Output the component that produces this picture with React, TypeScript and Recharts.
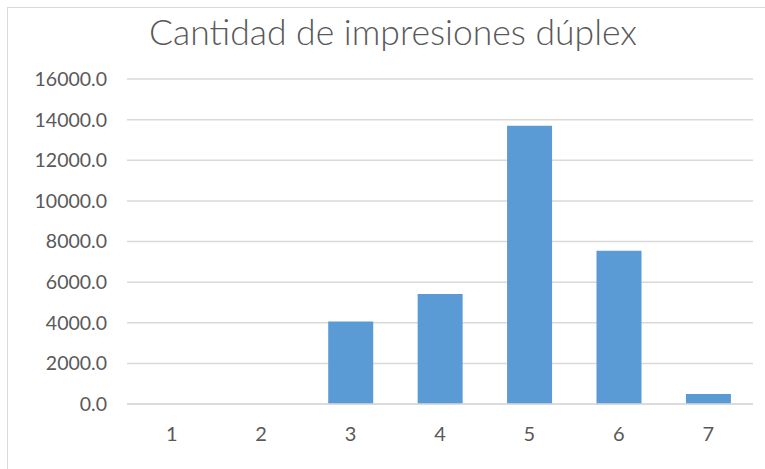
import { BarChart, Bar, XAxis, YAxis, CartesianGrid } from "recharts";

const categories = ["1", "2", "3", "4", "5", "6", "7"];
const duplexCounts = [0, 0, 4060, 5420, 13700, 7550, 495];
const yTicks = [0, 2000, 4000, 6000, 8000, 10000, 12000, 14000, 16000];

const data = categories.map((c, i) => ({ cat: c, value: duplexCounts[i] }));

const font = "Lato, 'Open Sans', sans-serif";

export default function App() {
  return (
    <div
      style={{
        position: "absolute",
        left: 0,
        top: 0,
        width: 765,
        height: 469,
        background: "#fff",
        fontFamily: font,
        overflow: "hidden",
      }}
    >
      <div
        style={{
          position: "absolute",
          left: 7,
          top: 7,
          width: 770,
          height: 470,
          border: "1px solid #D9D9D9",
          boxSizing: "border-box",
        }}
      />
      <div
        style={{
          position: "absolute",
          left: 0,
          top: 10,
          width: 786,
          textAlign: "center",
          fontSize: 35.5,
          fontWeight: 300,
          color: "#595959",
          whiteSpace: "nowrap",
        }}
      >
        Cantidad de impresiones dúplex
      </div>
      <div style={{ position: "absolute", left: 0, top: 0 }}>
        <BarChart
          width={765}
          height={469}
          data={data}
          margin={{ top: 79, right: 12, left: 0, bottom: 0 }}
          barCategoryGap="25%"
        >
          <CartesianGrid vertical={false} stroke="#D9D9D9" strokeWidth={1.5} />
          <XAxis
            dataKey="cat"
            height={65}
            axisLine={{ stroke: "#D9D9D9", strokeWidth: 1.5 }}
            tickLine={false}
            tickMargin={17}
            tick={{ fill: "#595959", fontSize: 20, fontFamily: font }}
          />
          <YAxis
            width={127}
            domain={[0, 16000]}
            ticks={yTicks}
            axisLine={false}
            tickLine={false}
            tickMargin={14}
            tickFormatter={(v: number) => v.toFixed(1)}
            tick={{ fill: "#595959", fontSize: 19.5, fontFamily: font }}
          />
          <Bar dataKey="value" fill="#5B9BD5" isAnimationActive={false} />
        </BarChart>
      </div>
    </div>
  );
}
